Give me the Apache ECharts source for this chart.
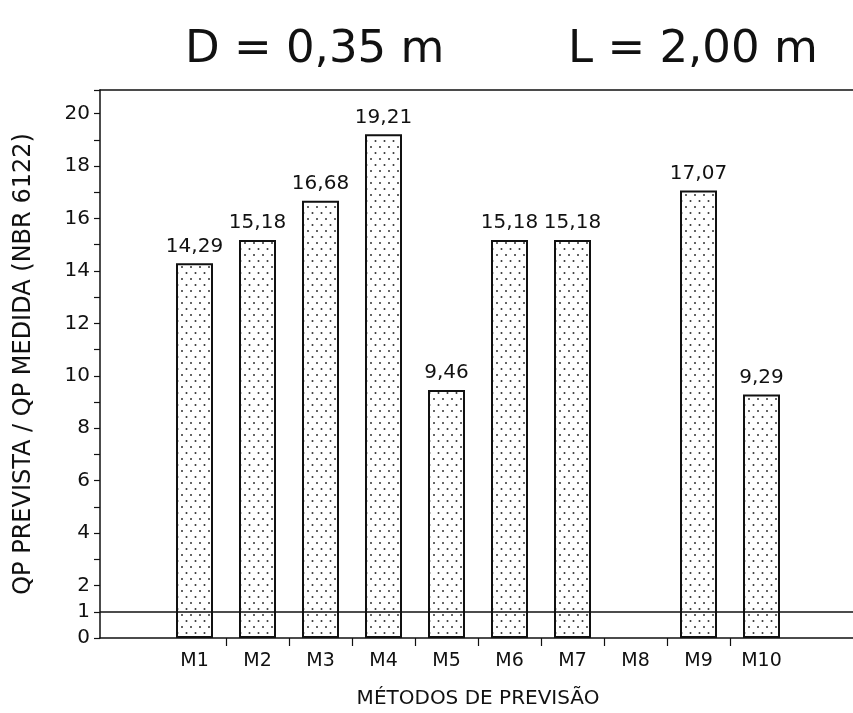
<!DOCTYPE html>
<html>
<head>
<meta charset="utf-8">
<script src="https://cdn.jsdelivr.net/npm/echarts@6/dist/echarts.min.js"></script>
<style>
  html, body { margin: 0; padding: 0; background: #fff; }
  #chart { width: 853px; height: 713px; }
</style>
</head>
<body>
<div id="chart"></div>
<script>
// dados
var metodos = ['M1', 'M2', 'M3', 'M4', 'M5', 'M6', 'M7', 'M8', 'M9', 'M10'];
var razao = [14.29, 15.18, 16.68, 19.21, 9.46, 15.18, 15.18, null, 17.07, 9.29];
var yTicks = [0, 1, 2, 4, 6, 8, 10, 12, 14, 16, 18, 20];
var linhaRef = 1;

// uma categoria vazia de cada lado (espaço antes de M1 e depois de M10)
var cats = [''].concat(metodos).concat(['']);
var vals = [null].concat(razao).concat([null]);

// textura pontilhada das barras
function makeDots() {
  var c = document.createElement('canvas');
  c.width = 9; c.height = 12;
  var ctx = c.getContext('2d');
  ctx.fillStyle = '#ffffff';
  ctx.fillRect(0, 0, 9, 12);
  ctx.fillStyle = '#333';
  ctx.beginPath(); ctx.arc(2, 3, 1, 0, Math.PI * 2); ctx.fill();
  ctx.beginPath(); ctx.arc(6.5, 9, 1, 0, Math.PI * 2); ctx.fill();
  return c;
}

var fonte = 'DejaVu Sans';
var chart = echarts.init(document.getElementById('chart'));
var option = {
  backgroundColor: '#fff',
  animation: false,
  title: [
    { text: 'D = 0,35 m', left: 180, top: 23, textStyle: { fontFamily: fonte, fontSize: 45, fontWeight: 'normal', color: '#111' } },
    { text: 'L = 2,00 m', left: 563, top: 23, textStyle: { fontFamily: fonte, fontSize: 45, fontWeight: 'normal', color: '#111' } }
  ],
  grid: { left: 100, right: -3, top: 90, bottom: 75, containLabel: false, outerBoundsMode: 'none' },
  xAxis: [{
    type: 'category',
    data: cats,
    boundaryGap: true,
    name: 'MÉTODOS DE PREVISÃO',
    nameLocation: 'middle',
    nameGap: 51,
    nameTextStyle: { fontFamily: fonte, fontSize: 20, color: '#111' },
    axisLine: { lineStyle: { color: '#111', width: 1.5 } },
    axisTick: {
      show: true, length: 8, lineStyle: { color: '#111', width: 1.2 },
      interval: function (i) { return i >= 2 && i <= 10; }
    },
    axisLabel: { fontFamily: fonte, fontSize: 19, color: '#111', margin: 14, interval: 0 },
    splitLine: { show: false }
  }, {
    type: 'category',
    data: cats,
    position: 'top',
    axisLine: { lineStyle: { color: '#111', width: 1.5 } },
    axisTick: { show: false },
    axisLabel: { show: false }
  }],
  yAxis: {
    type: 'value',
    min: 0,
    max: 20.9,
    interval: 1,
    name: 'QP PREVISTA / QP MEDIDA (NBR 6122)',
    nameLocation: 'middle',
    nameGap: 64,
    nameTextStyle: { fontFamily: fonte, fontSize: 24, color: '#111' },
    axisLine: { show: true, lineStyle: { color: '#111', width: 1.5 } },
    axisTick: { show: true, length: 6, lineStyle: { color: '#111', width: 1.2 } },
    axisLabel: {
      fontFamily: fonte, fontSize: 20, color: '#111', margin: 10,
      formatter: function (v) { return yTicks.indexOf(v) >= 0 ? String(v) : ''; }
    },
    splitLine: { show: false }
  },
  series: [{
    type: 'bar',
    data: vals,
    barWidth: 37,
    itemStyle: {
      color: { image: makeDots(), repeat: 'repeat' },
      borderColor: '#111',
      borderWidth: 2
    },
    label: {
      show: true,
      position: 'top',
      distance: 7,
      fontFamily: fonte,
      fontSize: 20,
      color: '#111',
      formatter: function (p) { return p.value == null ? '' : p.value.toFixed(2).replace('.', ','); }
    },
    markLine: {
      silent: true,
      symbol: 'none',
      label: { show: false },
      lineStyle: { color: '#111', width: 1.5, type: 'solid' },
      data: [{ yAxis: linhaRef }]
    }
  }]
};
chart.setOption(option);
</script>
</body>
</html>
